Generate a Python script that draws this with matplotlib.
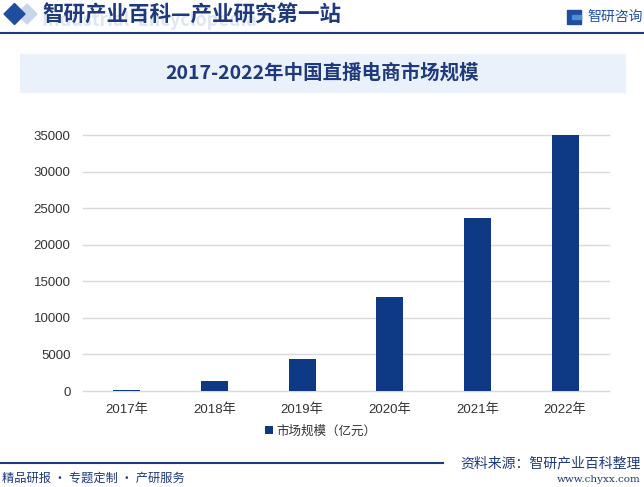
import matplotlib.pyplot as plt
from matplotlib.patches import Rectangle, Polygon

plt.rcParams['font.family'] = ['Noto Sans CJK SC', 'DejaVu Sans']

# data
years = ['2017年', '2018年', '2019年', '2020年', '2021年', '2022年']
market = [196.4, 1354, 4437.5, 12850, 23615, 35000]
yticks = [0, 5000, 10000, 15000, 20000, 25000, 30000, 35000]
series_name = '市场规模（亿元）'

W, H = 644, 487
navy = '#1F3A7A'
bar_c = '#0E3A85'
tick_font = ['Liberation Sans', 'Noto Sans CJK SC']

fig = plt.figure(figsize=(W / 100, H / 100), dpi=100)

def fx(x):
    return x / W

def fy(y):
    return 1 - y / H

# header
fig.patches.append(Polygon([(fx(17), fy(14)), (fx(27), fy(4)), (fx(37), fy(14)), (fx(27), fy(24))],
                           closed=True, transform=fig.transFigure, color='#C9D5EA', zorder=1))
fig.patches.append(Polygon([(fx(4), fy(14)), (fx(14.5), fy(3.5)), (fx(25), fy(14)), (fx(14.5), fy(24.5))],
                           closed=True, transform=fig.transFigure, color='#1F4E9E', zorder=2))
fig.text(fx(42), fy(21), 'Industrial  Encyclopedia', fontsize=13, fontweight='bold',
         color='#DFE6F1', va='center', ha='left', zorder=1)
fig.text(fx(42), fy(15), '智研产业百科—产业研究第一站', fontsize=15.5, fontweight='bold',
         color=navy, va='center', ha='left', zorder=3)
fig.add_artist(plt.Line2D([0, 1], [fy(33), fy(33)], color=navy, lw=1.5))

# logo on the right
fig.patches.append(Rectangle((fx(567), fy(24)), fx(14), 14 / H, transform=fig.transFigure,
                             color='#1F4E9E', zorder=2))
fig.patches.append(Rectangle((fx(572), fy(19)), fx(9), 4 / H, transform=fig.transFigure,
                             color='#4A90D9', zorder=3))
fig.text(fx(587), fy(17), '智研咨询', fontsize=10, color='#1F4E9E', va='center', ha='left')

# title banner
fig.patches.append(Rectangle((fx(20), fy(92)), fx(605), 38 / H, transform=fig.transFigure,
                             color='#EAF1FB', zorder=0))
fig.text(fx(322), fy(73), '2017-2022年中国直播电商市场规模', fontsize=14, fontweight='bold',
         color=navy, va='center', ha='center')

# chart
ax = fig.add_axes([fx(83), fy(391), fx(526), (391 - 135) / H])
x = range(len(years))
ax.bar(x, market, width=0.31, color=bar_c, zorder=3, label=series_name)
ax.set_xlim(-0.5, len(years) - 0.5)
ax.set_ylim(0, 35000)
ax.set_yticks(yticks)
ax.set_yticklabels([str(v) for v in yticks], family=tick_font)
ax.set_xticks(list(x))
ax.set_xticklabels(years, family=tick_font)
ax.yaxis.grid(True, color='#D9D9D9', lw=1, zorder=0)
for gl in ax.get_ygridlines():
    gl.set_clip_on(False)
for s in ax.spines.values():
    s.set_visible(False)
ax.tick_params(length=0, labelsize=9.5, colors='#333333', pad=9)
ax.tick_params(axis='x', pad=9)

fig.legend(loc='center', bbox_to_anchor=(fx(321), fy(431)), frameon=False, fontsize=9,
           handlelength=0.6, handleheight=0.6, handletextpad=0.3, labelcolor='#333333')

# footer
fig.add_artist(plt.Line2D([0, fx(443)], [fy(463), fy(463)], color=navy, lw=1.5))
fig.text(fx(2), fy(478), '精品研报 · 专题定制 · 产研服务', fontsize=8.8, color=navy,
         va='center', ha='left')
fig.text(fx(641), fy(463), '资料来源：智研产业百科整理', fontsize=10, color=navy,
         va='center', ha='right')
fig.text(fx(641), fy(480), 'www.chyxx.com', fontsize=7.5, color=navy, family='DejaVu Serif',
         va='center', ha='right')

fig.savefig('out.png', dpi=100)
